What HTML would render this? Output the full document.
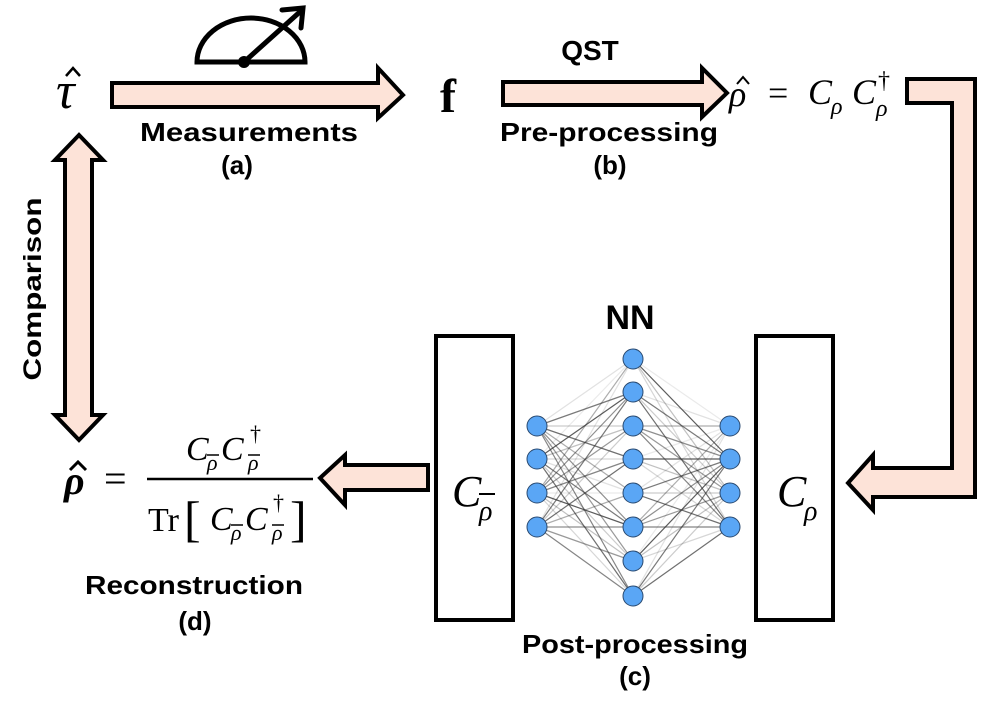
<!DOCTYPE html>
<html><head><meta charset="utf-8"><style>
html,body{margin:0;padding:0;background:#fff;}
svg{display:block;}
.lb{font-family:"Liberation Sans",sans-serif;font-weight:bold;fill:#000;}
.m{font-family:"Liberation Serif",serif;font-style:italic;fill:#000;}
.s{font-family:"Liberation Serif",serif;fill:#000;}
</style></head><body>
<svg width="1001" height="708" viewBox="0 0 1001 708" xmlns="http://www.w3.org/2000/svg">
<g fill="#fde3d8" stroke="#000" stroke-width="4" stroke-linejoin="miter">
<polygon points="112,83 378,83 378,68 403,95 378,118 378,107 112,107"/>
<polygon points="503,82 702,82 702,68 727,93 702,117 702,105 503,105"/>
<polygon points="907,79 975,79 975,497 873,497 873,510 848,483 873,455 873,468 952,468 952,103 907,103"/>
<polygon points="79,135 103,160 92,160 92,415 103,415 79,440 55,415 65,415 65,160 55,160"/>
<polygon points="428,465 345,465 345,455 320,478 345,505 345,490 428,490"/>
</g>
<g fill="none" stroke="#000" stroke-width="5" stroke-linecap="round">
<path d="M197,62 A54,44 0 0 1 305,62 Z"/>
<line x1="244" y1="62" x2="302" y2="10"/>
<polyline points="282,10 303,8 301,28"/>
</g>
<circle cx="244" cy="62" r="6" fill="#000"/>
<rect x="436" y="336" width="77" height="284" fill="none" stroke="#000" stroke-width="4"/>
<rect x="756" y="336" width="77" height="284" fill="none" stroke="#000" stroke-width="4"/>
<g id="edges" stroke="#333"></g>
<g id="nodes" fill="#5aa6f5" stroke="#2a4a70" stroke-width="1"></g>
<text class="lb" x="249" y="141" font-size="26" text-anchor="middle" textLength="218" lengthAdjust="spacingAndGlyphs">Measurements</text>
<text class="lb" x="237" y="174" font-size="26" text-anchor="middle">(a)</text>
<text class="lb" x="590" y="60" font-size="28" text-anchor="middle">QST</text>
<text class="lb" x="609" y="141" font-size="26" text-anchor="middle" textLength="218" lengthAdjust="spacingAndGlyphs">Pre-processing</text>
<text class="lb" x="610" y="174" font-size="26" text-anchor="middle">(b)</text>
<text class="lb" x="630" y="329" font-size="34" text-anchor="middle">NN</text>
<text class="lb" x="635" y="653" font-size="26" text-anchor="middle" textLength="226" lengthAdjust="spacingAndGlyphs">Post-processing</text>
<text class="lb" x="635" y="685" font-size="26" text-anchor="middle">(c)</text>
<text class="lb" x="194" y="594" font-size="26" text-anchor="middle" textLength="218" lengthAdjust="spacingAndGlyphs">Reconstruction</text>
<text class="lb" x="195" y="630" font-size="26" text-anchor="middle">(d)</text>
<text class="lb" font-size="25" text-anchor="middle" transform="translate(41,289) rotate(-90)" textLength="183" lengthAdjust="spacingAndGlyphs">Comparison</text>
<text class="m" x="56" y="108" font-size="52">τ</text>
<path d="M66,76 L73,68 L80,76" fill="none" stroke="#000" stroke-width="2.5"/>
<text class="s" x="440" y="112" font-size="48" font-weight="bold">f</text>
<text class="m" x="729" y="106" font-size="36">ρ</text>
<path d="M737,84 L743,77 L749,84" fill="none" stroke="#000" stroke-width="2"/>
<text class="s" x="768" y="105" font-size="36">=</text>
<text class="m" x="808" y="104" font-size="36">C</text>
<text class="m" x="831" y="114" font-size="24">ρ</text>
<text class="m" x="852" y="104" font-size="36">C</text>
<text class="m" x="876" y="116" font-size="24">ρ</text>
<text class="s" x="878" y="88" font-size="24">†</text>
<text class="m" x="777" y="506" font-size="44">C</text>
<text class="m" x="804" y="520" font-size="28">ρ</text>
<text class="m" x="452" y="506" font-size="44">C</text>
<text class="m" x="479" y="520" font-size="28">ρ</text>
<line x1="479" y1="494" x2="495" y2="494" stroke="#000" stroke-width="2"/>
<text class="m" x="64" y="494" font-size="40" font-weight="bold">ρ</text>
<path d="M70,470 L78,462 L86,470" fill="none" stroke="#000" stroke-width="3"/>
<text class="s" x="104" y="492" font-size="40">=</text>
<line x1="147" y1="479" x2="313" y2="479" stroke="#000" stroke-width="2.5"/>
<text class="m" x="186" y="460" font-size="34">C</text>
<text class="m" x="207" y="470" font-size="22">ρ</text>
<line x1="207" y1="455" x2="219" y2="455" stroke="#000" stroke-width="1.5"/>
<text class="m" x="221" y="460" font-size="34">C</text>
<text class="m" x="248" y="470" font-size="22">ρ</text>
<line x1="248" y1="455" x2="260" y2="455" stroke="#000" stroke-width="1.5"/>
<text class="s" x="250" y="441" font-size="22">†</text>
<text class="s" x="148" y="531" font-size="34">Tr</text>
<text class="s" x="184" y="536" font-size="50">[</text>
<text class="m" x="210" y="530" font-size="34">C</text>
<text class="m" x="231" y="540" font-size="22">ρ</text>
<line x1="231" y1="525" x2="243" y2="525" stroke="#000" stroke-width="1.5"/>
<text class="m" x="245" y="530" font-size="34">C</text>
<text class="m" x="272" y="540" font-size="22">ρ</text>
<line x1="272" y1="525" x2="284" y2="525" stroke="#000" stroke-width="1.5"/>
<text class="s" x="273" y="510" font-size="22">†</text>
<text class="s" x="290" y="536" font-size="50">]</text>
</svg>
<script>
var L=[426,459,493,527].map(y=>[537,y]),M=[359,392,426,459,493,527,561,596].map(y=>[633,y]),R=[426,459,493,527].map(y=>[730,y]);
var op=[0.7,0.3,0.55,0.15,0.6,0.25,0.8,0.4,0.2,0.5,0.65,0.1];
var e=document.getElementById('edges'),n=document.getElementById('nodes'),k=0,ns="http://www.w3.org/2000/svg";
function ln(a,b){var l=document.createElementNS(ns,'line');l.setAttribute('x1',a[0]);l.setAttribute('y1',a[1]);l.setAttribute('x2',b[0]);l.setAttribute('y2',b[1]);l.setAttribute('stroke-opacity',op[(k*7+3)%12]);l.setAttribute('stroke-width','1.2');k++;e.appendChild(l);}
L.forEach(a=>M.forEach(b=>ln(a,b)));M.forEach(a=>R.forEach(b=>ln(a,b)));
L.concat(M,R).forEach(p=>{var c=document.createElementNS(ns,'circle');c.setAttribute('cx',p[0]);c.setAttribute('cy',p[1]);c.setAttribute('r',10);n.appendChild(c);});
</script>
</body></html>
